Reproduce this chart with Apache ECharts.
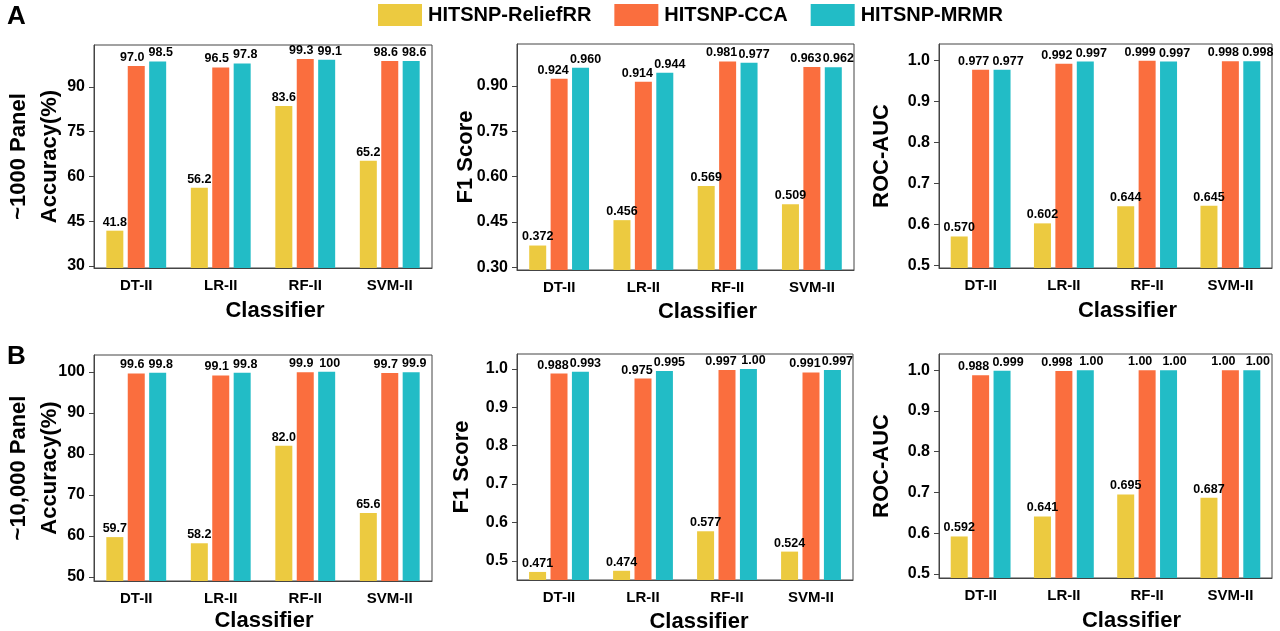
<!DOCTYPE html>
<html>
<head>
<meta charset="utf-8">
<script src="https://cdn.jsdelivr.net/npm/echarts@6/dist/echarts.min.js"></script>
<style>
  html, body { margin: 0; padding: 0; background: #fff; }
  #main { width: 1280px; height: 631px; }
</style>
</head>
<body>
<div id="main"></div>
<script>
var categories = ['DT-II', 'LR-II', 'RF-II', 'SVM-II'];
var seriesNames = ['HITSNP-ReliefRR', 'HITSNP-CCA', 'HITSNP-MRMR'];
var colors = ['#ECCA40', '#FA6E3E', '#22BCC6'];

// ~1000 panel
var accA_relief = [41.8, 56.2, 83.6, 65.2];
var accA_cca = [97.0, 96.5, 99.3, 98.6];
var accA_mrmr = [98.5, 97.8, 99.1, 98.6];
var f1A_relief = [0.372, 0.456, 0.569, 0.509];
var f1A_cca = [0.924, 0.914, 0.981, 0.963];
var f1A_mrmr = [0.960, 0.944, 0.977, 0.962];
var aucA_relief = [0.570, 0.602, 0.644, 0.645];
var aucA_cca = [0.977, 0.992, 0.999, 0.998];
var aucA_mrmr = [0.977, 0.997, 0.997, 0.998];

// ~10,000 panel
var accB_relief = [59.7, 58.2, 82.0, 65.6];
var accB_cca = [99.6, 99.1, 99.9, 99.7];
var accB_mrmr = [99.8, 99.8, 100, 99.9];
var f1B_relief = [0.471, 0.474, 0.577, 0.524];
var f1B_cca = [0.988, 0.975, 0.997, 0.991];
var f1B_mrmr = [0.993, 0.995, 1.00, 0.997];
var aucB_relief = [0.592, 0.641, 0.695, 0.687];
var aucB_cca = [0.988, 0.998, 1.00, 1.00];
var aucB_mrmr = [0.999, 1.00, 1.00, 1.00];

// tick values
var ticksAccA = [30, 45, 60, 75, 90];
var ticksF1A = [0.30, 0.45, 0.60, 0.75, 0.90];
var ticksAucA = [0.5, 0.6, 0.7, 0.8, 0.9, 1.0];
var ticksAccB = [50, 60, 70, 80, 90, 100];
var ticksF1B = [0.5, 0.6, 0.7, 0.8, 0.9, 1.0];
var ticksAucB = [0.5, 0.6, 0.7, 0.8, 0.9, 1.0];

var FONT = '"Liberation Sans", Arial, sans-serif';

function fmtAcc(v) { return v === 100 ? '100' : v.toFixed(1); }
function fmtScore(v) { return v === 1 ? '1.00' : v.toFixed(3); }

var panels = [
  { grid: { left: 94, top: 45, width: 338, height: 223 }, min: 29.3, max: 104, ticks: ticksAccA, dec: 0,
    name: '~1000 Panel\nAccuracy(%)', gap: 29, xShift: 12, xGap: 32, spread: [-4, 3],
    data: [accA_relief, accA_cca, accA_mrmr], fmt: fmtAcc },
  { grid: { left: 517, top: 44, width: 337, height: 226 }, min: 0.291, max: 1.039, ticks: ticksF1A, dec: 2,
    name: 'F1 Score', gap: 36, xShift: 22, xGap: 31, spread: [-6, 5],
    data: [f1A_relief, f1A_cca, f1A_mrmr], fmt: fmtScore },
  { grid: { left: 939, top: 44, width: 333, height: 224 }, min: 0.493, max: 1.04, ticks: ticksAucA, dec: 1,
    name: 'ROC-AUC', gap: 42, xShift: 22, xGap: 32, spread: [-7, 6],
    data: [aucA_relief, aucA_cca, aucA_mrmr], fmt: fmtScore },
  { grid: { left: 94, top: 355, width: 338, height: 226 }, min: 49.0, max: 104.1, ticks: ticksAccB, dec: 0,
    name: '~10,000 Panel\nAccuracy(%)', gap: 29, xShift: 1, xGap: 29, spread: [-4, 3],
    data: [accB_relief, accB_cca, accB_mrmr], fmt: fmtAcc },
  { grid: { left: 517, top: 354, width: 336, height: 226 }, min: 0.45, max: 1.039, ticks: ticksF1B, dec: 1,
    name: 'F1 Score', gap: 40, xShift: 14, xGap: 31, spread: [-6, 5],
    data: [f1B_relief, f1B_cca, f1B_mrmr], fmt: fmtScore },
  { grid: { left: 939, top: 354, width: 333, height: 224 }, min: 0.49, max: 1.04, ticks: ticksAucB, dec: 1,
    name: 'ROC-AUC', gap: 42, xShift: 26, xGap: 32, spread: [-7, 6],
    data: [aucB_relief, aucB_cca, aucB_mrmr], fmt: fmtScore }
];

var grids = [], xAxes = [], yAxes = [], series = [];

panels.forEach(function (p, i) {
  grids.push(Object.assign({
    show: true, borderColor: '#444', borderWidth: 1, containLabel: false, outerBoundsMode: 'none'
  }, p.grid));
  xAxes.push({
    type: 'category', gridIndex: i, data: categories,
    axisLine: { lineStyle: { color: '#444' } },
    axisTick: { show: false },
    axisLabel: { color: '#000', fontFamily: FONT, fontWeight: 'bold', fontSize: 15, margin: 10 },
    name: 'Classifier', nameLocation: 'middle', nameGap: p.xGap, nameMoveOverlap: false,
    nameTextStyle: {
      color: '#000', fontFamily: FONT, fontWeight: 'bold', fontSize: 22,
      padding: [0, 0, 0, p.xShift * 2]
    }
  });
  yAxes.push({
    type: 'value', gridIndex: i, min: p.min, max: p.max,
    splitLine: { show: false },
    axisLine: { show: true, lineStyle: { color: '#444' } },
    axisTick: { show: true, length: 5, customValues: p.ticks, lineStyle: { color: '#444' } },
    axisLabel: {
      customValues: p.ticks, color: '#000', fontFamily: FONT, fontWeight: 'bold', fontSize: 16, margin: 9,
      formatter: (function (d) { return function (v) { return v.toFixed(d); }; })(p.dec)
    },
    name: p.name, nameLocation: 'middle', nameGap: p.gap, nameMoveOverlap: false,
    nameTextStyle: { color: '#000', fontFamily: FONT, fontWeight: 'bold', fontSize: 22, lineHeight: 31 }
  });
  var offsets = [0, p.spread[0], p.spread[1]];
  p.data.forEach(function (arr, k) {
    series.push({
      name: seriesNames[k], type: 'bar', xAxisIndex: i, yAxisIndex: i,
      data: arr, barWidth: 17, barGap: '26%',
      itemStyle: { color: colors[k] },
      label: {
        show: true, position: 'top', distance: 2, color: '#000',
        offset: [offsets[k], 0],
        fontFamily: FONT, fontWeight: 'bold', fontSize: 12.5,
        formatter: (function (f) { return function (d) { return f(d.value); }; })(p.fmt)
      },
      animation: false
    });
  });
});

var chart = echarts.init(document.getElementById('main'));
chart.setOption({
  animation: false,
  legend: {
    data: seriesNames, left: 378, top: 4, padding: 0, icon: 'rect',
    itemWidth: 44, itemHeight: 22, itemGap: 23,
    textStyle: { color: '#000', fontFamily: FONT, fontWeight: 'bold', fontSize: 20, padding: [0, 0, 0, 1] }
  },
  graphic: [
    { type: 'text', left: 7, top: 4, style: { text: 'A', fontFamily: FONT, fontWeight: 'bold', fontSize: 26, fill: '#000' } },
    { type: 'text', left: 7, top: 344, style: { text: 'B', fontFamily: FONT, fontWeight: 'bold', fontSize: 26, fill: '#000' } }
  ],
  grid: grids,
  xAxis: xAxes,
  yAxis: yAxes,
  series: series
});
</script>
</body>
</html>
